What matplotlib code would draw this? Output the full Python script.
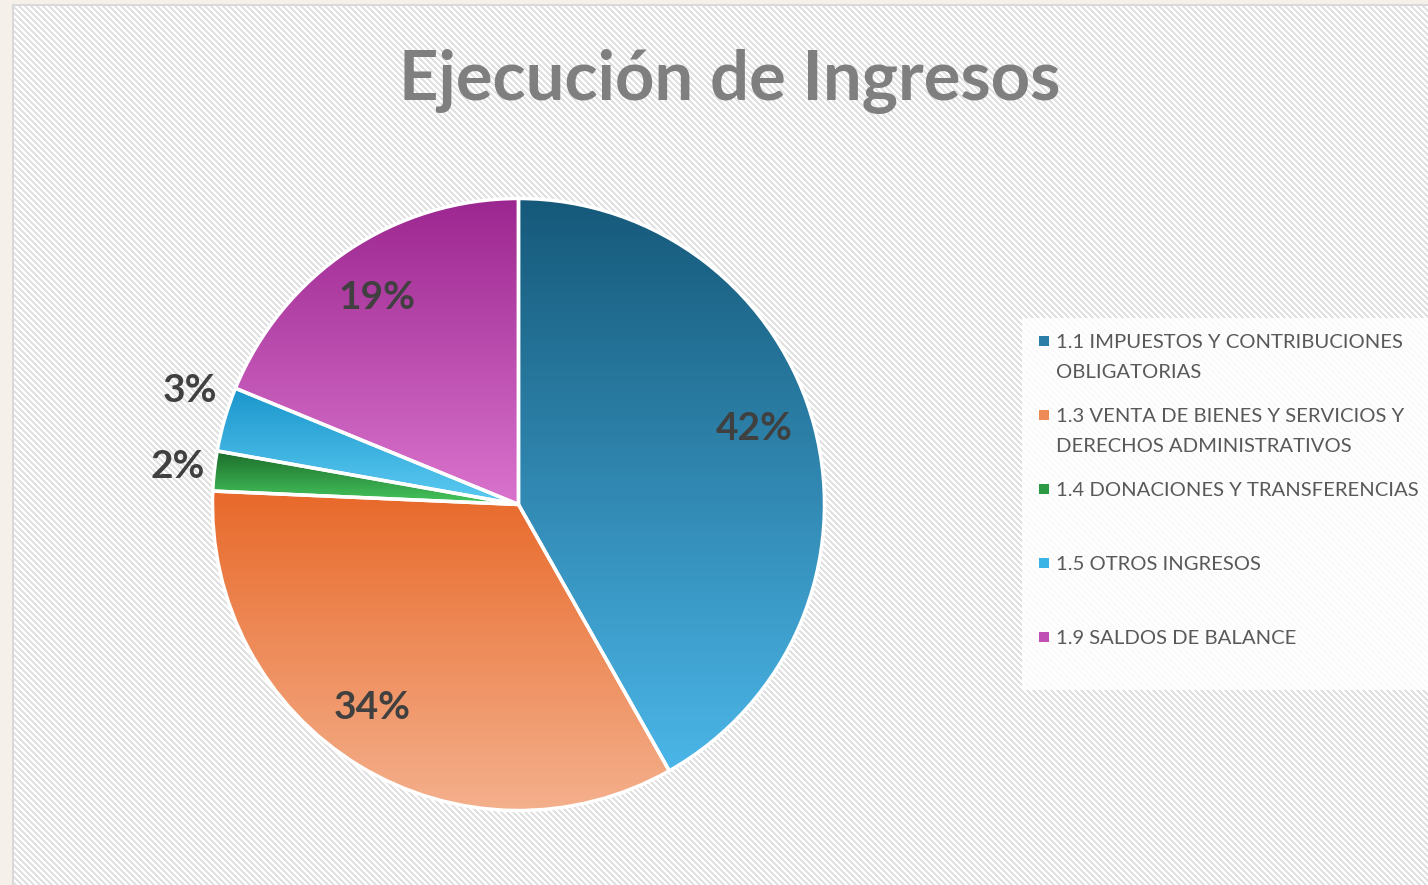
import numpy as np
import matplotlib
matplotlib.use("Agg")
import matplotlib.pyplot as plt
from matplotlib.colors import to_rgb
from matplotlib.patches import Rectangle

# ---- data ----
categories = [
    "1.1 IMPUESTOS Y CONTRIBUCIONES\nOBLIGATORIAS",
    "1.3 VENTA DE BIENES Y SERVICIOS Y\nDERECHOS ADMINISTRATIVOS",
    "1.4 DONACIONES Y TRANSFERENCIAS",
    "1.5 OTROS INGRESOS",
    "1.9 SALDOS DE BALANCE",
]
values = [41.8, 33.9, 2.1, 3.4, 18.8]
title = "Ejecución de Ingresos"

# ---- style ----
top_colors = ["#16597a", "#e8692a", "#1b6b2a", "#1a95cb", "#9c2690"]
bottom_colors = ["#4bb6e8", "#f4b08c", "#46c75e", "#5ccbf2", "#d973cd"]
legend_colors = ["#2a7ea8", "#ee8a55", "#2c9a42", "#3ab4e4", "#c050b4"]
label_pos = [(0.770, 0.247), (-0.479, -0.665), (-1.113, 0.123), (-1.074, 0.374), (-0.462, 0.678)]

W, H = 1428, 885
DPI = 100
fig = plt.figure(figsize=(W / DPI, H / DPI), dpi=DPI)

# background texture
yy, xx = np.mgrid[0:H, 0:W]
bg = np.ones((H, W, 3))
stripe = ((xx - yy) % 6) < 3
bg[stripe] = to_rgb("#e1e1e1")
beige = to_rgb("#f5f0ea")
bg[:, :12] = beige
bg[:4, :] = beige
bg[4:6, 12:] = to_rgb("#d9d9d9")
bg[4:, 12:14] = to_rgb("#d9d9d9")
bax = fig.add_axes([0, 0, 1, 1])
bax.imshow(bg, interpolation="nearest", aspect="auto")
bax.set_axis_off()

# legend background
fig.patches.append(Rectangle((1022 / W, 1 - 690 / H), (W - 1022) / W, (690 - 318) / H,
                             transform=fig.transFigure, facecolor="white", alpha=0.85,
                             edgecolor="none", zorder=1))

# pie axes
cx, cy, R = 518.5, 504.5, 306
ax = fig.add_axes([(cx - R) / W, (H - cy - R) / H, 2 * R / W, 2 * R / H])
ax.patch.set_alpha(0)
wedges, _ = ax.pie(values, startangle=90, counterclock=False,
                   colors=top_colors,
                   wedgeprops=dict(edgecolor="white", linewidth=2.5))
for w, c0, c1 in zip(wedges, top_colors, bottom_colors):
    ext = w.get_path().get_extents()
    n = 256
    t = np.linspace(0, 1, n)[:, None]
    grad = (1 - t) * np.array(to_rgb(c0)) + t * np.array(to_rgb(c1))
    grad = grad[:, None, :]
    im = ax.imshow(grad, extent=(ext.x0, ext.x1, ext.y0, ext.y1), origin="upper",
                   aspect="auto", zorder=1, interpolation="bilinear")
    im.set_clip_path(w)
    w.set_facecolor("none")
    w.set_zorder(2)
ax.set_xlim(-1, 1)
ax.set_ylim(-1, 1)
ax.set_aspect("equal")
ax.set_axis_off()

for v, (lx, ly) in zip(values, label_pos):
    ax.text(lx, ly, f"{round(v)}%", ha="center", va="center", fontsize=28,
            fontweight="bold", color="#404040", family="Lato", zorder=5, clip_on=False)

# title
fig.text(730 / W, 1 - 100 / H, title, ha="center", va="baseline", fontsize=49.5,
         fontweight="bold", color="#7f7f7f", family="Lato")

# legend
for i, (lab, col) in enumerate(zip(categories, legend_colors)):
    ycen = 341 + 74 * i
    fig.patches.append(Rectangle((1039 / W, 1 - (ycen + 5) / H), 10 / W, 10 / H,
                                 transform=fig.transFigure, facecolor=col,
                                 edgecolor="none", zorder=3))
    fig.text(1056 / W, 1 - (ycen - 7) / H, lab, ha="left", va="top", fontsize=14.6,
             color="#595959", family="Lato", linespacing=1.92, zorder=4)

fig.savefig("out.png", dpi=DPI)
